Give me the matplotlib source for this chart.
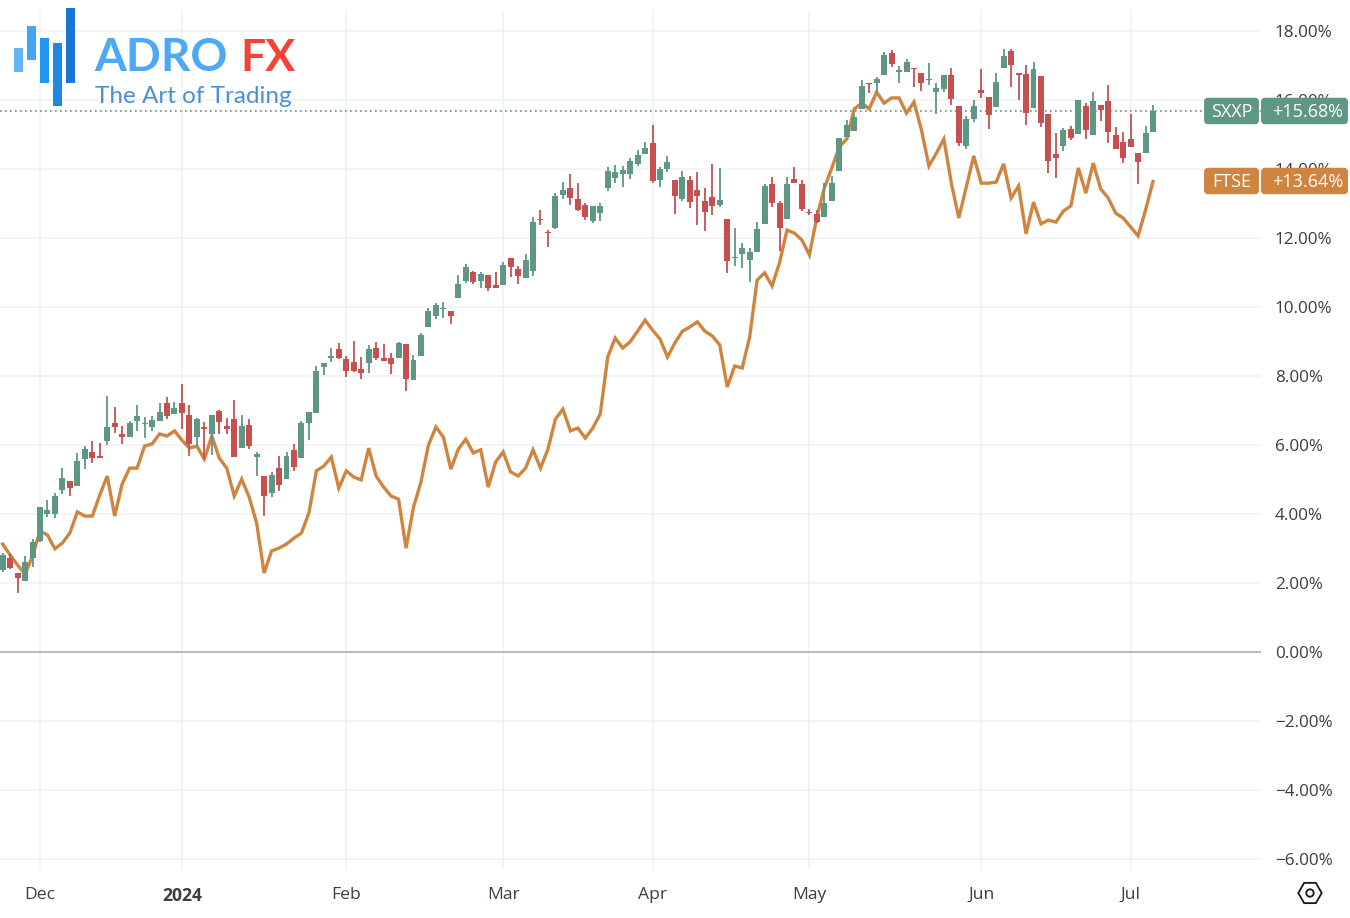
import matplotlib
matplotlib.use("Agg")
import matplotlib.pyplot as plt
import numpy as np
from matplotlib.patches import FancyBboxPatch, Rectangle, RegularPolygon, Circle

plt.rcParams['font.family'] = ['Open Sans', 'DejaVu Sans']

# SXXP candles, % change, first bar is 5 sessions before 1 Dec
opens = [2.38,2.72,2.29,2.06,2.72,3.22,4.00,4.00,4.70,4.96,
         4.81,5.59,5.80,5.65,6.12,6.64,6.32,6.23,6.70,6.61,
         6.52,6.70,7.22,6.90,7.22,6.87,6.23,6.52,6.32,6.99,
         6.55,6.75,5.91,6.58,5.65,5.10,4.61,5.33,5.01,5.86,
         5.62,6.64,6.93,8.26,8.52,8.78,8.49,8.41,8.20,8.38,
         8.81,8.52,8.52,8.52,8.93,7.88,8.58,9.42,9.74,9.94,
         9.88,10.26,10.75,11.01,10.75,10.93,10.64,10.64,11.42,11.10,
         10.84,11.04,12.55,12.17,12.29,13.25,13.45,13.13,12.96,12.49,
         12.72,13.45,13.74,13.86,13.86,14.15,14.43,14.75,13.68,14.00,
         13.68,13.13,13.68,13.39,13.07,13.19,12.96,12.55,11.42,11.54,
         11.36,11.59,12.41,13.57,13.01,12.55,13.71,13.57,12.75,12.70,
         12.61,13.07,13.94,14.93,15.10,15.74,16.49,16.49,16.72,17.36,
         16.81,16.81,16.93,16.78,16.58,16.23,16.32,16.72,15.83,14.67,
         15.45,16.29,16.09,15.80,16.93,17.42,16.78,16.75,15.77,16.70,
         15.59,14.43,14.67,15.16,15.01,15.83,14.99,15.86,15.97,14.99,
         14.78,14.87,14.46,14.46,15.07]
highs = [2.87,2.84,2.29,2.78,3.28,4.20,4.41,4.61,5.33,4.96,
         5.77,5.97,6.12,6.06,7.42,7.10,6.55,6.70,7.16,6.81,
         6.84,7.22,7.39,7.25,7.77,7.16,6.78,6.67,6.87,7.01,
         6.78,7.30,6.87,6.75,5.80,5.10,5.22,5.68,5.80,6.03,
         6.70,6.96,8.29,8.38,8.81,8.96,8.58,9.01,8.55,8.90,
         8.99,8.93,8.67,8.99,8.93,8.61,9.25,9.97,10.12,10.14,
         9.88,10.93,11.25,11.04,11.01,10.93,11.01,11.30,11.42,11.19,
         11.54,12.61,12.81,12.23,13.30,13.62,13.86,13.59,13.01,12.93,
         13.01,14.06,14.12,14.09,14.32,14.55,14.78,15.28,14.06,14.38,
         13.68,13.94,13.80,13.91,13.45,14.15,14.03,12.55,12.29,11.86,
         11.71,12.46,13.57,13.77,13.07,13.77,14.06,13.68,12.84,12.81,
         13.59,13.80,14.90,15.42,15.59,16.58,16.49,16.67,17.39,17.45,
         16.99,17.19,16.93,16.78,17.07,16.49,16.72,16.93,15.83,15.54,
         16.00,16.90,16.09,16.78,17.48,17.48,16.78,17.01,17.10,16.70,
         15.59,15.04,15.19,15.25,16.00,15.91,16.23,15.86,16.43,15.22,
         15.07,15.59,14.46,15.25,15.86]
lows = [2.32,2.42,1.71,2.06,2.46,3.20,3.91,3.88,4.58,4.52,
        4.81,5.30,5.48,5.63,6.00,6.35,6.03,6.23,6.41,6.20,
        6.41,6.70,6.75,6.90,6.46,5.68,5.97,5.59,5.71,6.32,
        6.32,5.65,5.91,5.88,5.10,3.94,4.49,4.67,5.01,5.25,
        5.62,6.14,6.93,8.03,8.41,8.49,7.97,8.12,7.91,8.09,
        8.46,8.43,8.06,8.52,7.57,7.88,8.58,9.42,9.65,9.68,
        9.51,10.26,10.70,10.67,10.55,10.46,10.55,10.64,10.87,10.67,
        10.84,10.90,12.38,11.74,12.26,13.13,12.96,12.78,12.52,12.43,
        12.49,13.36,13.59,13.48,13.71,14.09,14.43,13.59,13.48,13.91,
        12.70,13.07,12.87,12.38,12.20,12.67,12.90,10.99,11.19,11.13,
        10.72,11.59,12.41,12.90,11.62,12.55,13.59,12.78,12.67,12.43,
        12.61,13.07,13.94,14.93,15.10,15.74,16.20,16.23,16.72,16.96,
        16.49,16.81,16.38,16.26,16.43,15.59,16.23,15.86,14.67,14.58,
        15.36,16.06,15.16,15.80,16.93,16.38,16.00,15.28,15.77,15.22,
        13.88,13.74,14.52,14.84,15.01,14.87,14.99,15.39,14.75,14.58,
        14.17,14.64,13.57,14.46,15.07]
closes = [2.81,2.43,2.14,2.61,3.19,4.20,4.12,4.52,5.04,4.75,
          5.54,5.88,5.62,5.63,6.52,6.52,6.23,6.64,6.84,6.64,
          6.72,6.96,6.84,7.07,6.93,6.03,6.75,6.46,6.87,6.67,
          6.46,5.65,6.55,5.97,5.74,4.52,5.13,4.84,5.68,5.36,
          6.64,6.96,8.14,8.38,8.58,8.52,8.14,8.14,8.09,8.78,
          8.52,8.43,8.35,8.96,7.91,8.46,9.19,9.88,10.06,9.97,
          9.74,10.67,11.16,10.72,10.96,10.55,10.55,11.22,11.16,10.90,
          11.36,12.46,12.52,12.14,13.22,13.39,13.16,12.81,12.61,12.93,
          12.93,13.94,13.91,13.97,14.23,14.41,14.61,13.65,14.00,14.20,
          13.22,13.77,13.04,13.22,12.75,12.93,13.10,11.33,11.45,11.71,
          11.59,12.26,13.51,13.01,12.29,13.57,13.59,12.84,12.72,12.46,
          13.01,13.59,14.90,15.28,15.51,16.41,16.46,16.61,17.30,17.04,
          16.87,17.10,16.90,16.49,16.61,16.35,16.72,16.03,14.75,15.45,
          15.83,16.20,15.57,16.52,17.28,17.01,16.72,15.62,16.90,15.33,
          14.23,14.32,15.13,14.90,16.00,15.13,15.97,15.71,15.07,14.58,
          14.32,14.64,14.20,15.04,15.68]
# FTSE line, % change
ftse = [3.13,2.81,2.52,2.26,2.78,3.51,3.39,2.99,3.16,3.45,
        4.06,3.94,3.94,4.55,5.10,3.94,4.87,5.33,5.33,5.97,
        6.03,6.32,6.26,6.41,6.14,5.91,5.97,5.59,6.26,5.62,
        5.33,4.52,5.01,4.49,3.74,2.29,2.93,3.01,3.13,3.30,
        3.45,4.03,5.25,5.39,5.65,4.75,5.25,5.07,4.99,5.91,
        5.10,4.78,4.52,4.43,3.01,4.20,4.93,6.00,6.52,6.23,
        5.30,5.88,6.17,5.77,5.86,4.78,5.51,5.80,5.22,5.10,
        5.33,5.86,5.33,5.88,6.75,7.04,6.41,6.49,6.20,6.49,
        6.90,8.55,9.10,8.81,8.99,9.30,9.62,9.33,9.07,8.55,
        8.96,9.30,9.42,9.57,9.30,9.16,8.90,7.68,8.29,8.23,
        9.13,10.78,10.99,10.61,11.28,12.23,12.14,11.94,11.51,12.61,
        13.45,14.03,14.64,14.87,15.74,15.91,15.74,16.23,15.91,16.06,
        16.06,15.62,15.94,15.13,14.09,14.46,14.87,13.59,12.58,13.48,
        14.38,13.59,13.59,13.62,14.15,13.16,13.51,12.12,13.04,12.41,
        12.52,12.46,12.78,12.93,14.03,13.30,14.17,13.42,13.16,12.72,
        12.58,12.32,12.06,12.81,13.64]

month_pos = [0, 19, 41, 62, 82, 103, 126, 146]
month_labels = ['Dec', '2024', 'Feb', 'Mar', 'Apr', 'May', 'Jun', 'Jul']
pct_ticks = [-6, -4, -2, 0, 2, 4, 6, 8, 10, 12, 14, 16, 18]
pct_labels = ['\u22126.00%', '\u22124.00%', '\u22122.00%', '0.00%', '2.00%', '4.00%', '6.00%',
              '8.00%', '10.00%', '12.00%', '14.00%', '16.00%', '18.00%']

GREEN = '#5e9784'
RED = '#c6504f'
ORANGE = '#cf853f'
GRID = '#f0f1f4'
TXT = '#3a3d45'

W, H = 1350, 918
fig = plt.figure(figsize=(W / 100, H / 100), dpi=100, facecolor='white')

# plot area in pixels: x 0-1261, y 10-870
ax = fig.add_axes([0, 1 - 870 / H, 1261 / W, 860 / H])
ax.set_xlim(-40 / 7.47, 1221 / 7.47)
ax.set_ylim(-218 / 34.5, 642 / 34.5)

x = np.arange(len(closes)) - 5
o = np.array(opens)
c = np.array(closes)
colors = [GREEN if c[i] >= o[i] else RED for i in range(len(c))]

ax.plot(x, ftse, color=ORANGE, lw=2.4, zorder=3, solid_joinstyle='miter')
ax.vlines(x, lows, highs, colors=colors, lw=1.3, zorder=4)
ax.bar(x, np.maximum(np.abs(c - o), 0.04), bottom=np.minimum(o, c), width=0.8, color=colors, zorder=5)

ax.axhline(0, color='#b2b5be', lw=1.3, zorder=2)
ax.axhline(closes[-1], color=GREEN, lw=1.2, ls=(0, (1, 2)), zorder=2)

ax.set_xticks(month_pos)
ax.set_xticklabels(month_labels, fontsize=12.6, color=TXT)
ax.get_xticklabels()[1].set_fontweight('bold')
ax.set_yticks(pct_ticks)
ax.set_yticklabels(pct_labels, fontsize=12.3, color=TXT)
ax.yaxis.tick_right()
ax.tick_params(axis='x', length=0, pad=12)
ax.tick_params(axis='y', length=0, pad=10)
ax.grid(True, color=GRID, lw=1.1, zorder=0)
ax.set_axisbelow(True)
for s in ax.spines.values():
    s.set_visible(False)

# overlay in pixel coordinates for logo, price tags and settings icon
ov = fig.add_axes([0, 0, 1, 1])
ov.set_xlim(0, W)
ov.set_ylim(H, 0)
ov.axis('off')

logo_bars = [(14, 48, 9, 24, '#64b5f6'), (27, 26, 9, 34, '#42a5f5'), (40.3, 38, 9, 45, '#2196f3'),
             (53.3, 43, 9, 63, '#1e88e5'), (66.3, 8, 9, 75, '#1976d2')]
for bx, by, bw, bh, col in logo_bars:
    ov.add_patch(Rectangle((bx, by), bw, bh, color=col, lw=0))
ov.text(94, 71, 'ADRO', fontsize=33, family='Lato', weight='bold', color='#4fa8f5', va='baseline')
ov.text(240, 71, 'FX', fontsize=32, family='Lato', weight='bold', color='#f44336', va='baseline')
ov.text(95, 103, 'The Art of Trading', fontsize=17.5, family='Lato', color='#4a90d9', va='baseline')


def tag(x0, x1, cy, col, text, tx, ha):
    ov.add_patch(FancyBboxPatch((x0 + 2, cy - 11.3), x1 - x0 - 4, 22.6, boxstyle='round,pad=0,rounding_size=2',
                                mutation_aspect=1, facecolor=col, edgecolor=col, lw=2.8))
    ov.text(tx, cy + 1, text, color='white', fontsize=13, ha=ha, va='center')


tag(1204, 1259, 111, GREEN, 'SXXP', 1231.5, 'center')
tag(1261, 1348, 111, GREEN, '+15.68%', 1343, 'right')
tag(1204, 1259, 181, ORANGE, 'FTSE', 1231.5, 'center')
tag(1261, 1348, 181, ORANGE, '+13.64%', 1343, 'right')

ov.add_patch(RegularPolygon((1310, 893), 6, radius=11.7, orientation=np.pi / 2, fill=False, ec='#131722', lw=1.3))
ov.add_patch(Circle((1310, 893), 3.7, fill=False, ec='#131722', lw=1.3))

fig.savefig('out.png', dpi=100, facecolor='white')
